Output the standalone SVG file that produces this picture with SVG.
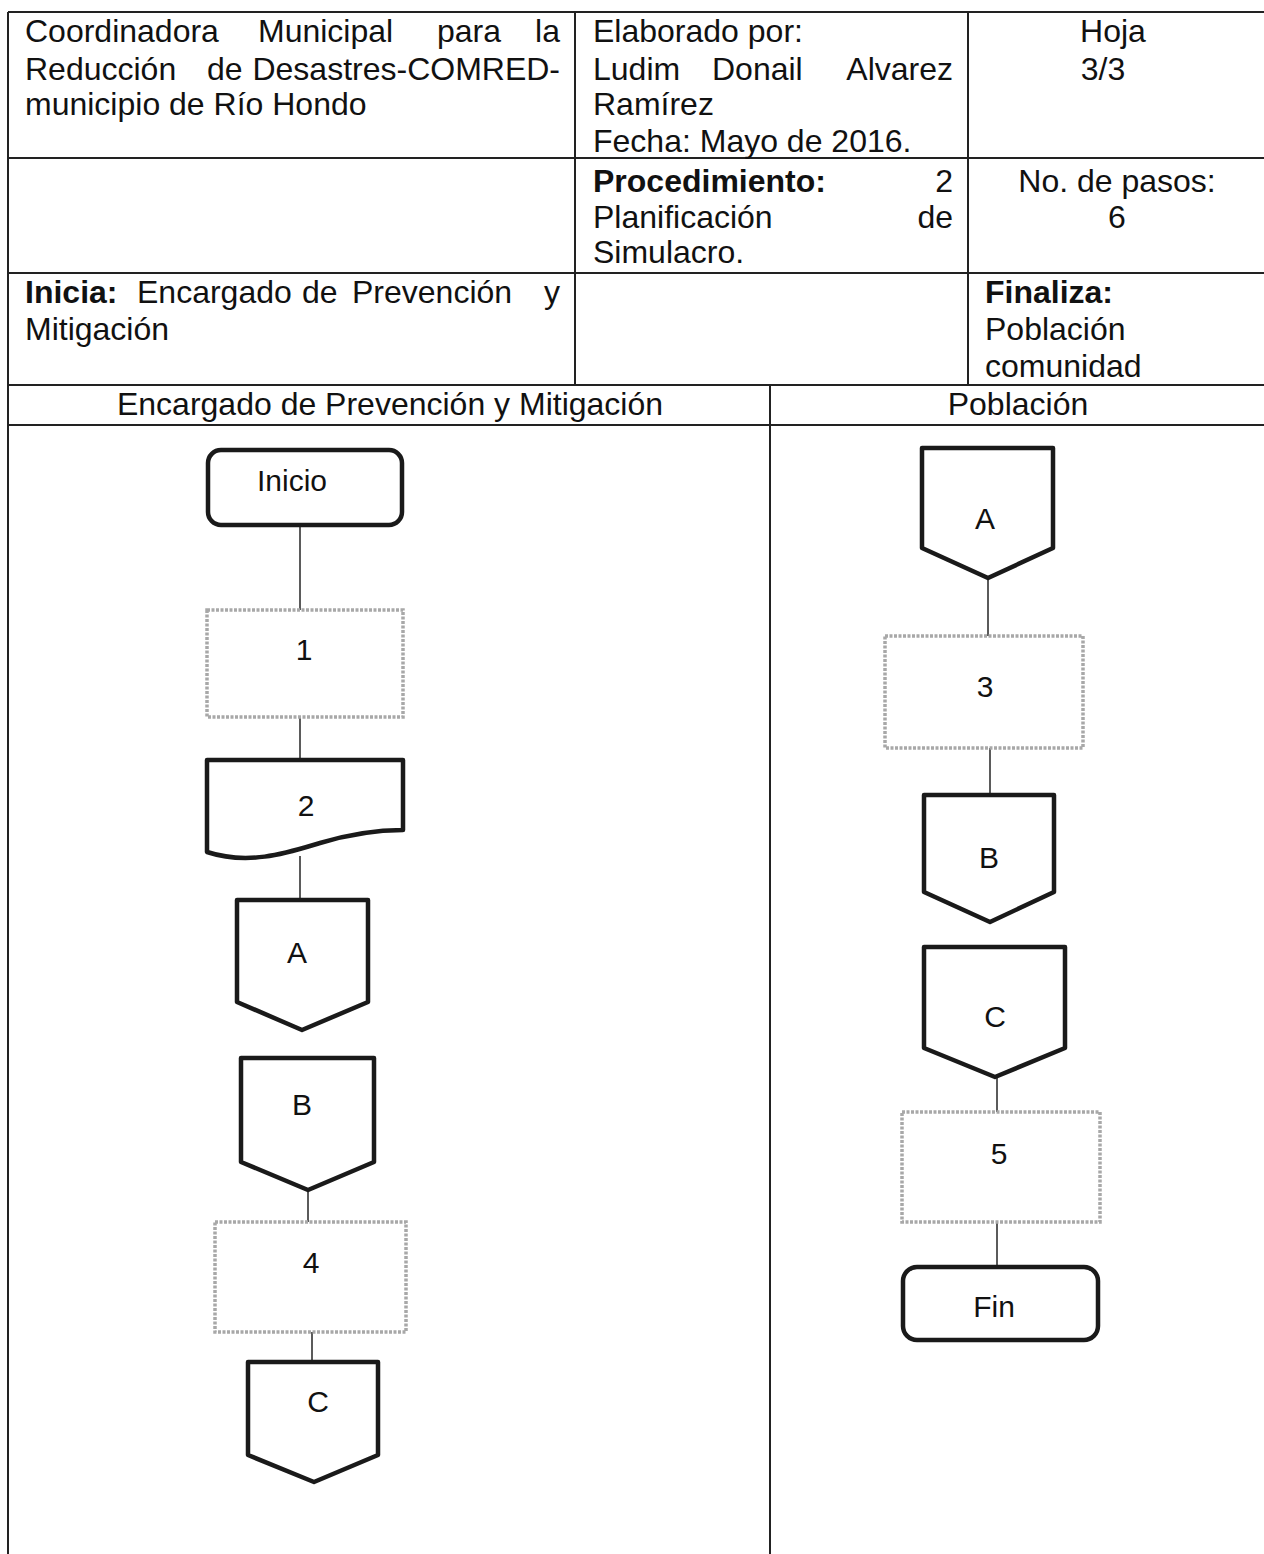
<svg xmlns="http://www.w3.org/2000/svg" width="1264" height="1554" viewBox="0 0 1264 1554">
<style>
text{font-family:"Liberation Sans",Arial,sans-serif;fill:#111}
.h{font-size:32px}
.b{font-weight:bold}
.e{text-anchor:end}
.m{text-anchor:middle}
.n{font-size:30px;text-anchor:middle}
.grid{stroke:#222;stroke-width:2;fill:none}
.blk{fill:#fff;stroke:#1a1a1a;stroke-width:4.5;stroke-linejoin:round}
.gry{fill:#fff;stroke:#a8a8a8;stroke-width:3.5;stroke-dasharray:3 1.5}
.con{stroke:#333;stroke-width:1.6;fill:none}
</style>
<rect width="1264" height="1554" fill="#fff"/>
<g id="table">
<path class="grid" d="M8,12H1264M8,158H1264M8,273H1264M8,385H1264M8,425H1264M8,12V1554M575,12V385M968,12V385M770,385V1554"/>
<text class="h" x="25" y="42">Coordinadora</text>
<text class="h" x="258" y="42">Municipal</text>
<text class="h" x="437" y="42">para</text>
<text class="h e" x="560" y="42">la</text>
<text class="h" x="25" y="80">Reducción</text>
<text class="h" x="207" y="80">de</text>
<text class="h e" x="560" y="80">Desastres-COMRED-</text>
<text class="h" x="25" y="115">municipio de Río Hondo</text>
<text class="h" x="593" y="42">Elaborado por:</text>
<text class="h" x="593" y="80">Ludim</text>
<text class="h" x="712" y="80">Donail</text>
<text class="h e" x="953" y="80">Alvarez</text>
<text class="h" x="593" y="115">Ramírez</text>
<text class="h" x="593" y="152">Fecha: Mayo de 2016.</text>
<text class="h m" x="1113" y="42">Hoja</text>
<text class="h m" x="1103" y="80">3/3</text>
<text class="h b" x="593" y="192">Procedimiento:</text>
<text class="h e" x="953" y="192">2</text>
<text class="h" x="593" y="228">Planificación</text>
<text class="h e" x="953" y="228">de</text>
<text class="h" x="593" y="263">Simulacro.</text>
<text class="h m" x="1117" y="192">No. de pasos:</text>
<text class="h m" x="1117" y="228">6</text>
<text class="h b" x="25" y="303">Inicia:</text>
<text class="h" x="137" y="303">Encargado</text>
<text class="h" x="302" y="303">de</text>
<text class="h" x="352" y="303">Prevención</text>
<text class="h e" x="560" y="303">y</text>
<text class="h" x="25" y="340">Mitigación</text>
<text class="h b" x="985" y="303">Finaliza:</text>
<text class="h" x="985" y="340">Población</text>
<text class="h" x="985" y="377">comunidad</text>
<text class="h m" x="390" y="415">Encargado de Prevención y Mitigación</text>
<text class="h m" x="1018" y="415">Población</text>
</g>
<g id="connectors">
<path class="con" d="M300,525V610M300,717V760M300,856V900M308,1190V1222M312,1332V1362"/>
<path class="con" d="M988,578V636M990,748V795M997,1077V1112M997,1222V1267"/>
</g>
<g id="inicio"><rect class="blk" x="208" y="450" width="194" height="75" rx="13"/><text class="n" x="292" y="491">Inicio</text></g>
<g id="paso1"><rect class="gry" x="207" y="610" width="196" height="107"/><text class="n" x="304" y="660">1</text></g>
<g id="paso2"><path class="blk" d="M207,760H403V830C380,830 350,834 320,843C290,852 250,866 207,852Z"/><text class="n" x="306" y="816">2</text></g>
<g id="conA1"><path class="blk" d="M237,900H368V1002L302,1030L237,1002Z"/><text class="n" x="297" y="963">A</text></g>
<g id="conB1"><path class="blk" d="M241,1058H374V1162L308,1190L241,1162Z"/><text class="n" x="302" y="1115">B</text></g>
<g id="paso4"><rect class="gry" x="215" y="1222" width="191" height="110"/><text class="n" x="311" y="1273">4</text></g>
<g id="conC1"><path class="blk" d="M248,1362H378V1455L314,1482L248,1455Z"/><text class="n" x="318" y="1412">C</text></g>
<g id="conA2"><path class="blk" d="M922,448H1053V548L988,578L922,548Z"/><text class="n" x="985" y="529">A</text></g>
<g id="paso3"><rect class="gry" x="885" y="636" width="198" height="112"/><text class="n" x="985" y="697">3</text></g>
<g id="conB2"><path class="blk" d="M924,795H1054V892L990,922L924,892Z"/><text class="n" x="989" y="868">B</text></g>
<g id="conC2"><path class="blk" d="M924,947H1065V1048L995,1077L924,1048Z"/><text class="n" x="995" y="1027">C</text></g>
<g id="paso5"><rect class="gry" x="902" y="1112" width="198" height="110"/><text class="n" x="999" y="1164">5</text></g>
<g id="fin"><rect class="blk" x="903" y="1267" width="195" height="73" rx="14"/><text class="n" x="994" y="1317">Fin</text></g>
</svg>
